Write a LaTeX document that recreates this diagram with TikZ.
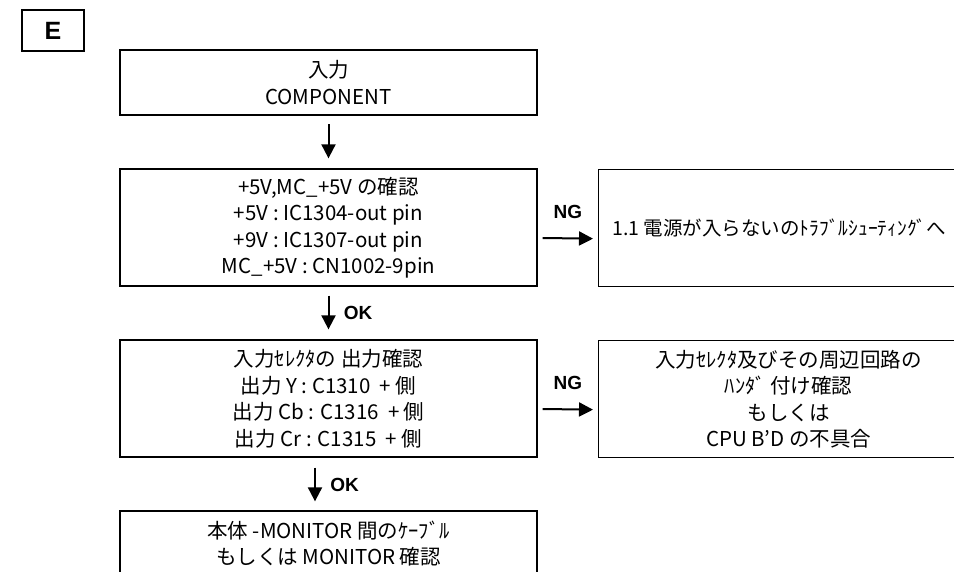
\documentclass[tikz,border=0pt]{standalone}
\usepackage{fontspec}
\setmainfont{Noto Sans CJK JP}
\newfontfamily\labelfont{Liberation Sans}
\usetikzlibrary{arrows.meta, positioning}

\tikzset{
  stepbox/.style={draw, line width=1.3pt, minimum width=417pt, minimum height=117pt,
    align=center, font=\fontsize{20.5}{26.5}\selectfont},
  flow/.style={line width=2pt, -{Triangle[length=14pt, width=14pt]}},
  verdict/.style={font=\labelfont\bfseries\fontsize{19}{21}\selectfont}
}

\begin{document}
\begin{tikzpicture}[x=1pt, y=-1pt]
  \useasboundingbox (0,0) rectangle (954,572);
  % Repere
  \node[draw, line width=2pt, minimum width=62pt, minimum height=41pt,
        font=\labelfont\bfseries\fontsize{25}{27}\selectfont] (tag) at (53,30.5) {E};
  % Colonne principale
  \node[stepbox, line width=2.3pt, minimum height=65pt] (input) at (328.5,82.5) {入力\\COMPONENT};
  \node[stepbox] (power) at (328.5,227.5)
    {+5V,MC\_+5V の確認\\+5V : IC1304-out pin\\+9V : IC1307-out pin\\MC\_+5V : CN1002-9pin};
  \node[stepbox] (selector) at (328.5,398.5)
    {入力ｾﾚｸﾀの 出力確認\\出力 Y : C1310 \ + 側\\出力 Cb : C1316 \ + 側\\出力 Cr : C1315 \ + 側};
  \node[stepbox] (monitor) at (328.5,569.5)
    {本体 -MONITOR 間のｹｰﾌﾞﾙ\\もしくは MONITOR 確認\\~\\~};
  % Branches NG
  \node[stepbox, minimum width=380pt, anchor=north west] (ngpower) at (598,169) {};
  \node[anchor=west, font=\fontsize{19.5}{26.5}\selectfont] (ngpowertext)
    at ([xshift=11pt]ngpower.west) {1.1 電源が入らないのﾄﾗﾌﾞﾙｼｭｰﾃｨﾝｸﾞへ};
  \node[stepbox, minimum width=380pt, anchor=north west] (ngselector) at (598,340)
    {入力ｾﾚｸﾀ及びその周辺回路の\\ﾊﾝﾀﾞ 付け確認\\もしくは\\CPU B'D の不具合};
  % Fleches
  \draw[flow] ([yshift=-8pt]input.south) -- ([yshift=10pt]power.north);
  \draw[flow] ([yshift=-9pt]power.south) -- ([yshift=10pt]selector.north)
    node[midway, right=11pt, verdict] (okpower) {OK};
  \draw[flow] ([shift={(-13.5,10)}]selector.south) -- ([shift={(-13.5,-9)}]monitor.north)
    node[midway, right=11pt, verdict] (okselector) {OK};
  \draw[flow] ([shift={(5,10.5)}]power.east) -- ([shift={(-5,10.5)}]ngpower.west)
    node[midway, above=15pt, verdict] (ngA) {NG};
  \draw[flow] ([shift={(5,10.5)}]selector.east) -- ([shift={(-5,10.5)}]ngselector.west)
    node[midway, above=15.5pt, verdict] (ngB) {NG};
\end{tikzpicture}
\end{document}
